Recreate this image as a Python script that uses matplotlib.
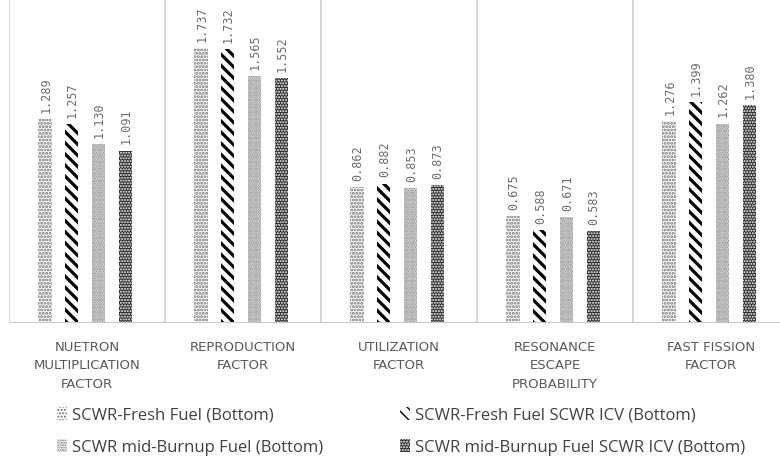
import numpy as np
import matplotlib
matplotlib.use("Agg")
import matplotlib.pyplot as plt
from matplotlib.patches import Patch

categories = ["NUETRON\nMULTIPLICATION\nFACTOR", "REPRODUCTION\nFACTOR",
              "UTILIZATION\nFACTOR", "RESONANCE\nESCAPE\nPROBABILITY",
              "FAST FISSION\nFACTOR"]
series_names = ["SCWR-Fresh Fuel (Bottom)",
                "SCWR-Fresh Fuel SCWR ICV (Bottom)",
                "SCWR mid-Burnup Fuel (Bottom)",
                "SCWR mid-Burnup Fuel SCWR ICV (Bottom)"]
fresh = [1.289, 1.737, 0.862, 0.675, 1.276]
fresh_icv = [1.257, 1.732, 0.882, 0.588, 1.399]
mid = [1.130, 1.565, 0.853, 0.671, 1.262]
mid_icv = [1.091, 1.552, 0.873, 0.583, 1.380]

series = [fresh, fresh_icv, mid, mid_icv]
# face colour, hatch pattern, hatch colour, hatch linewidth
styles = [("white", ".....", "#707070", 1.4),
          ("white", "\\\\\\", "#000000", 2.3),
          ("white", ".......", "#7a7a7a", 1.3),
          ("#2a2a2a", "......", "white", 1.0)]

W, H = 780, 464
fig = plt.figure(figsize=(W / 100, H / 100), dpi=100)
ax = fig.add_axes([9 / W, 1 - 324 / H, 780 / W, 324 / H])

x = np.arange(len(categories))
bw = 0.085
offsets = np.array([-1.5, -0.5, 0.5, 1.5]) * 0.172 - 0.012

handles = []
for vals, (fc, hatch, hc, hlw), off in zip(series, styles, offsets):
    plt.rcParams["hatch.linewidth"] = hlw
    bars = ax.bar(x + off, vals, width=bw, facecolor=fc, edgecolor=hc,
                  linewidth=0, hatch=hatch, zorder=2)
    for b in bars:
        if hasattr(b, "set_hatch_linewidth"):
            b.set_hatch_linewidth(hlw)
    for xi, v in zip(x + off, vals):
        ax.text(xi + 0.005, v + 0.045, f"{v:.3f}", rotation=90, ha="center",
                va="bottom", fontsize=8.5, color="#6b6b6b",
                family="DejaVu Sans Mono")
    h = Patch(facecolor=fc, edgecolor=hc, linewidth=0, hatch=hatch)
    if hasattr(h, "set_hatch_linewidth"):
        h.set_hatch_linewidth(hlw)
    handles.append(h)

ax.set_xlim(-0.5, 4.5)
ax.set_ylim(0, 2.05)
for b in np.arange(-0.5, 4.6, 1.0):
    ax.axvline(b, color="#d0d0d0", lw=1.2, zorder=1)
ax.axhline(0, color="#c8c8c8", lw=1.5, zorder=3)
ax.set_xticks([])
ax.set_yticks([])
for s in ax.spines.values():
    s.set_visible(False)

for xi, lab in zip(x, categories):
    ax.text(xi, -0.105, lab, ha="center", va="top", fontsize=9.5,
            color="#595959", family="DejaVu Sans", linespacing=1.55)

plt.rcParams["hatch.linewidth"] = 1.0
# legend is filled column by column, reorder so rows match the reference
order = [0, 2, 1, 3]
leg = fig.legend([handles[i] for i in order], [series_names[i] for i in order],
                 loc="lower left", ncol=2,
                 bbox_to_anchor=(42 / W, -7 / H), frameon=False,
                 handlelength=0.6, handleheight=0.8,
                 handletextpad=0.3, columnspacing=4.6, labelspacing=0.95,
                 prop={"family": "Open Sans", "size": 12})
for t in leg.get_texts():
    t.set_color("#404040")

fig.savefig("out.png", dpi=100)
